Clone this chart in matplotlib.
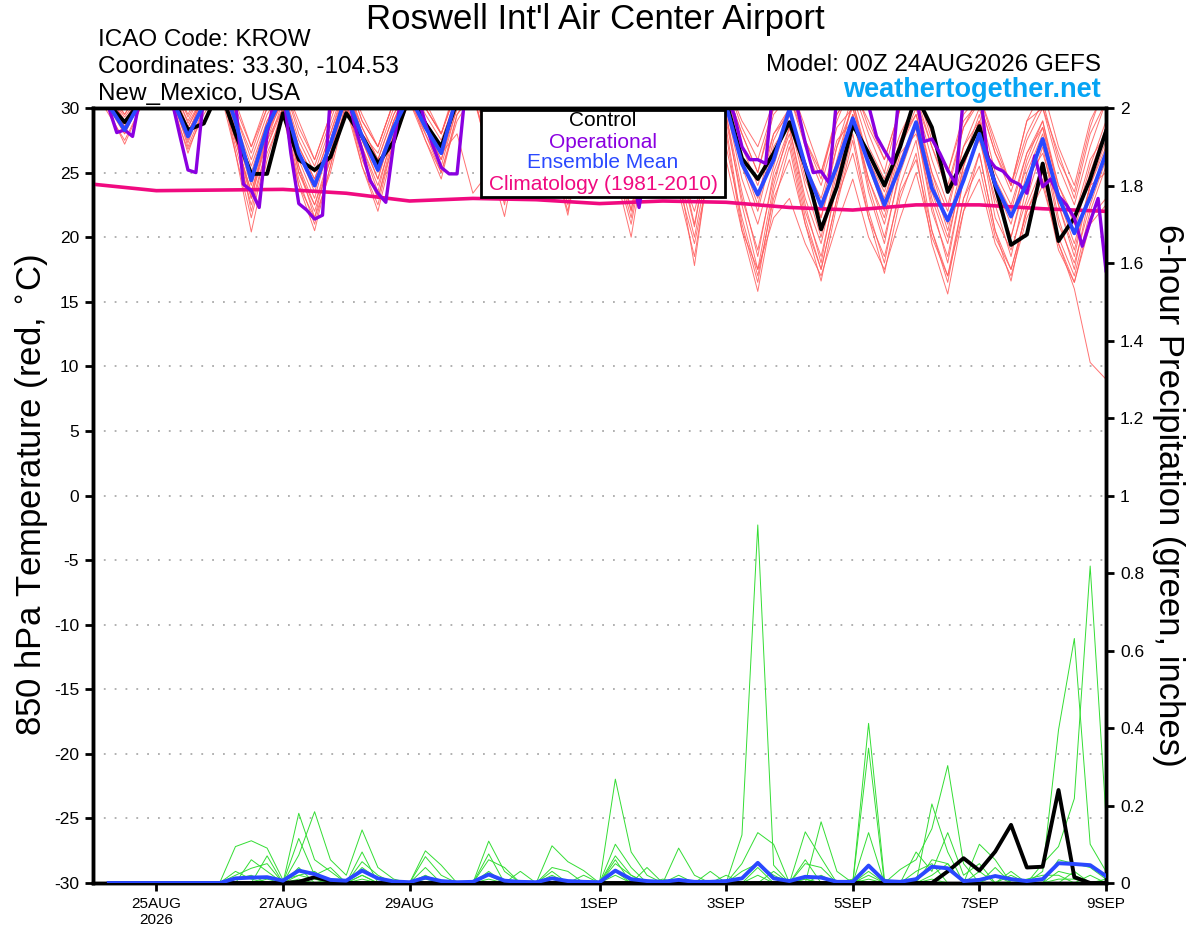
import numpy as np
import matplotlib
matplotlib.use("Agg")
import matplotlib.pyplot as plt
from matplotlib.patches import Rectangle

plt.rcParams['font.family'] = ['Liberation Sans', 'DejaVu Sans']
plt.rcParams['axes.unicode_minus'] = False

# ---- time axes (hours after 00Z 24AUG2026) ----
hours = np.arange(65) * 6            # 6-hourly ensemble output
hours_op = np.arange(129) * 3        # 3-hourly operational run
hours_pcp = np.arange(1, 65) * 6     # 6-hour precip totals end times
clim_hours = np.arange(17) * 24

tick_days = [1, 3, 5, 8, 10, 12, 14, 16]
tick_labels = ['25AUG\n2026', '27AUG', '29AUG', '1SEP', '3SEP', '5SEP', '7SEP', '9SEP']

# ---- 850 hPa temperature (C) ----
control_t = [32, 30.3, 28.9, 30.5, 32.5, 30.8, 28.3, 28.8, 31.5, 28.0, 24.9, 24.9,
             29.6, 26.0, 25.2, 26.2, 29.6, 27.8, 25.7, 27.4, 31.0, 28.8, 27.0, 30.5,
             32.5, 30.0, 28.0, 31.0, 32.5, 30.0, 27.5, 31.0, 32.5, 30.0, 27.0, 30.5,
             32.0, 30.0, 27.5, 28.3, 30.5, 26.1, 24.5, 26.5, 28.9, 25.5, 20.6, 23.9,
             28.7, 26.5, 24.0, 27.0, 31.0, 28.5, 23.5, 26.0, 28.6, 24.0, 19.4, 20.2,
             25.7, 19.7, 21.5, 24.5, 28.2]

mean_t = [31, 30.2, 28.3, 30.5, 32.5, 30.8, 27.8, 30.3, 32.5, 29.0, 24.4, 28.5,
          31.0, 26.5, 24.0, 27.2, 31.0, 27.8, 25.2, 28.5, 31.0, 28.5, 26.5, 31.0,
          32.5, 29.5, 27.0, 30.5, 32.0, 29.0, 26.5, 30.0, 32.0, 28.5, 26.0, 29.5,
          31.5, 28.5, 25.5, 29.5, 30.2, 25.7, 23.3, 26.0, 29.9, 25.5, 22.4, 25.5,
          29.2, 25.7, 22.5, 25.5, 28.9, 23.8, 21.3, 24.4, 28.0, 24.1, 21.6, 24.2,
          27.6, 23.1, 20.3, 23.1, 26.5]

oper_t = [32, 31, 30.0, 28.1, 28.3, 27.8, 31, 32.5,
          33, 32.5, 30.5, 27.8, 25.2, 25.0, 31, 32.5,
          33, 32, 30.5, 24.1, 23.6, 22.3, 28.0, 31,
          31.5, 26.5, 22.6, 22.1, 21.4, 21.7, 31, 32,
          31.5, 28.8, 26.7, 24.4, 23.4, 22.7, 27.3, 31,
          32, 31, 28.8, 27.0, 25.4, 24.9, 24.9, 31,
          32.5, 31.5, 29.5, 27.5, 26.5, 26.0, 28.5, 31.5,
          32.5, 31.5, 29.5, 27.5, 26.5, 26.0, 28.5, 31.5,
          32.5, 31.0, 29.0, 27.0, 25.0, 22.3, 26.0, 31.0,
          32.5, 31.5, 29.5, 27.5, 26.5, 26.5, 29.0, 31.5,
          31, 29.5, 27.0, 26.0, 26.0, 25.7, 32, 32.5,
          31, 30, 27.3, 25.0, 25.1, 24.2, 31, 32.5,
          32, 31.5, 30.2, 27.8, 26.7, 25.7, 32, 31.5,
          31, 27.4, 27.6, 26.5, 25.2, 24.1, 31, 32,
          32, 26.2, 25.4, 25.1, 24.4, 24.1, 23.4, 26.3,
          23.9, 24.5, 23.2, 22.5, 21.5, 19.3, 21.2, 23.0,
          17.4]

clim_t = [24.1, 23.6, 23.65, 23.7, 23.4, 22.8, 23.0, 22.9, 22.6,
          22.8, 22.7, 22.3, 22.1, 22.5, 22.5, 22.2, 22.0]

members_t = [
    [32, 30.2, 28.0, 30.5, 33, 31, 27.0, 30, 33, 28, 22.0, 27, 30.5, 25, 22.5, 26.5,
     31, 27, 24.0, 28, 31.5, 28.5, 26.0, 30.5, 32, 27, 23.0, 29, 32, 28, 24.5, 29.5,
     31.5, 26, 21.5, 28, 31, 25.5, 22.0, 27, 29, 23, 19.0, 24.5, 28, 22, 18.5, 24,
     29.5, 24, 20.0, 25, 28.5, 22, 18.5, 24.5, 28, 21.5, 19.0, 23, 27, 21, 18.0, 22.5, 26],
    [33, 31, 29.5, 31.5, 34, 32, 29.3, 31.5, 33.5, 30, 27.0, 30, 32, 28, 25.5, 29,
     32.5, 29, 27.0, 30.5, 32.5, 30, 28.0, 31.5, 33, 31, 28.5, 32, 33, 30.5, 28.5, 31.5,
     33, 30, 27.5, 31, 32.5, 29.5, 27.0, 31, 32, 29, 27.0, 30.5, 32, 28.5, 25.0, 29.5,
     31.5, 29, 26.0, 30, 31.5, 28, 25.0, 29.5, 31, 27.5, 24.0, 29, 31.5, 27, 24.0, 29, 31.5],
    [32.5, 30.5, 28.5, 31, 33, 31.5, 28.5, 31, 32, 27.5, 23.5, 27.5, 31, 26, 23.0, 27.5,
     31.5, 28, 25.5, 29, 32, 29, 27.0, 30.5, 32.5, 29, 25.5, 30, 32.5, 29.5, 26.0, 30,
     32, 28, 24.5, 29.5, 31.5, 27, 23.0, 28, 30, 24.5, 21.0, 25.5, 29.5, 24.5, 21.5, 26,
     30.5, 26, 23.0, 27, 30, 25, 21.0, 26, 29.5, 24, 21.5, 25.5, 28.5, 23, 19.5, 24, 27.5],
    [31.5, 30, 28.2, 30.5, 32.5, 30.5, 27.5, 30.5, 32.5, 26.5, 20.4, 26, 30, 24, 20.5, 25.5,
     30.5, 26, 23.0, 27.5, 31, 28, 25.5, 30, 31.5, 26, 21.6, 28, 31.5, 26.5, 22.0, 28.5,
     31, 25, 20.0, 27.5, 30.5, 23.5, 18.5, 26, 28.5, 21, 16.5, 23.5, 27.5, 21.5, 17.5, 23,
     28, 22, 18.0, 24, 27.5, 20.5, 16.5, 23, 26.5, 20.5, 17.5, 22, 25, 19.5, 16.0, 10.3, 9.0],
    [32, 31, 29.0, 31, 33, 31.5, 28.0, 31, 33, 29, 25.5, 29, 31.5, 27, 24.5, 28,
     32, 28.5, 26.0, 29.5, 32, 29.5, 27.5, 31, 33, 30, 27.0, 31, 32.5, 29, 25.5, 30,
     32.5, 29, 26.0, 30, 32, 28.5, 25.0, 29.5, 31, 27, 24.0, 28, 30, 25.5, 22.5, 27,
     31, 27, 24.5, 28, 30.5, 26, 22.5, 27, 30, 25, 22.5, 26.5, 29, 24, 21.0, 25.5, 29],
    [32, 30.5, 28.5, 31, 33, 31, 28.0, 31, 32.5, 28, 23.0, 28, 31, 25.5, 21.5, 26.5,
     31, 27, 23.5, 28.5, 31.5, 29, 26.5, 30.5, 32.5, 28.5, 24.5, 30, 32, 28, 23.5, 29.5,
     32, 27.5, 23.0, 29, 31.5, 26.5, 21.0, 27.5, 29.5, 22.5, 17.5, 24, 28.5, 23, 19.5, 25,
     29.5, 24.5, 21.0, 26, 29, 23, 19.5, 25.5, 29, 23.5, 20.0, 25, 28, 22.5, 18.5, 24, 27],
    [33, 31, 29.3, 31, 33.5, 31.5, 29.0, 31.5, 33, 29.5, 26.0, 29.5, 31.5, 27.5, 25.0, 28.5,
     32, 28, 26.5, 30, 32.5, 30, 28.0, 31.5, 32.5, 30, 27.5, 31, 33, 30, 27.0, 31.5,
     32.5, 29.5, 26.5, 30.5, 32.5, 29.5, 26.0, 30.5, 31.5, 28, 25.0, 29.5, 31, 27, 24.0, 28.5,
     30, 26, 23.5, 27.5, 31, 27, 24.0, 28.5, 30.5, 26.5, 23.5, 27.5, 30, 25.5, 22.5, 27, 30.5],
    [31.5, 29.8, 27.2, 30, 32.5, 30.5, 26.5, 30, 32, 27, 22.5, 27, 30, 24.5, 21.0, 25.5,
     30.5, 25.5, 22.0, 27, 31, 27.5, 24.5, 29.5, 31.5, 27.5, 23.5, 29.5, 31, 26.5, 21.7, 28.5,
     31, 26.5, 22.0, 28.5, 30.5, 25, 17.8, 26.5, 28, 20.5, 15.8, 22.5, 27, 21, 16.6, 22.5,
     27.5, 21.5, 17.2, 23, 26.5, 19.5, 15.6, 22, 26.5, 20.5, 16.6, 22.5, 25.5, 20, 17.0, 22, 25.5],
    [32.5, 31, 28.8, 31, 33, 31, 28.2, 30.5, 32.5, 28.5, 24.5, 28.5, 30.5, 26.5, 24.0, 27,
     31.5, 28, 25.0, 29, 31, 28.5, 26.5, 28, 23.4, 25, 24.0, 28, 31, 28, 25.0, 30,
     31.5, 27.5, 24.0, 29, 31, 27, 23.5, 28.5, 30, 25.5, 22.0, 27, 29, 24, 20.0, 25.5,
     30.5, 25.5, 22.0, 27, 29.5, 24.5, 20.5, 25.5, 29, 24, 21.0, 26, 29, 23.5, 20.5, 25, 28.5],
    [31.5, 30.5, 28.6, 30.5, 32.5, 30.5, 27.8, 30.5, 32.5, 28, 24.0, 28, 31, 26.5, 23.5, 27.5,
     31.5, 27.5, 24.5, 29, 32, 29, 26.5, 31, 32, 27.5, 22.5, 29.5, 32, 27.5, 22.5, 29,
     32, 27, 22.1, 29, 31.5, 26, 20.8, 27.5, 29.5, 23.5, 18.5, 25, 28.5, 22.5, 18.0, 24.5,
     29.5, 23.5, 19.5, 25.5, 28.5, 22.5, 18.0, 24.5, 28, 22.5, 18.5, 24, 27.5, 21.5, 17.5, 23.5, 26.5],
    [32, 30.2, 28.3, 30.2, 32.5, 30.5, 27.3, 30.5, 32, 27.5, 23.5, 28, 30.5, 25, 22.0, 26,
     30, 26.5, 23.0, 28, 30.5, 27.5, 25.0, 29, 31, 27, 24.0, 29, 31.5, 27, 24.0, 29.5,
     32, 28, 25.5, 30, 31.5, 27.5, 24.5, 29, 30.5, 26, 22.5, 27.5, 30, 25.5, 23.0, 27.5,
     29, 24.5, 21.5, 26.5, 28, 23.5, 20.0, 25, 27.5, 23, 20.0, 24.5, 26.5, 22.5, 19.0, 24, 25],
    [32.5, 31, 29.0, 31, 33.5, 32, 28.8, 31, 33, 29.5, 26.5, 30, 32, 28.5, 26.0, 29.5,
     32.5, 29, 27.0, 30.5, 33, 30.5, 28.0, 31.5, 33, 30, 26.5, 31, 32.5, 29.5, 27.0, 31,
     32.5, 29, 25.0, 30.5, 32.5, 29, 26.5, 30.5, 32, 28.5, 26.0, 30, 31, 27.5, 25.0, 29,
     32, 28.5, 26.0, 30, 31.5, 27.5, 25.0, 29, 30.5, 26.5, 24.0, 28, 30.5, 26, 23.5, 28.5, 32],
    [31.5, 29.5, 27.5, 30, 32, 30, 26.8, 29.5, 31.5, 26.5, 21.5, 26.5, 29.5, 24, 21.5, 25,
     30, 25.5, 22.5, 27.5, 30.5, 28, 25.0, 29.5, 31, 26.5, 22.8, 28.5, 31, 26.5, 23.0, 28.5,
     30.5, 25.5, 21.0, 27.5, 30, 25, 20.0, 26.5, 27, 21.5, 17.0, 23, 26, 21, 17.5, 23,
     26.5, 21.5, 18.5, 23.5, 26, 20.5, 17.0, 23, 25.5, 20, 17.5, 22, 24.5, 19, 16.5, 21.5, 23],
    [32.5, 30.8, 28.5, 30.8, 33, 31, 28.5, 31, 32.5, 28.5, 25.0, 29, 31, 27, 24.5, 28,
     31.5, 28.5, 26.0, 29.5, 31.5, 29, 27.0, 30.5, 32, 29, 25.5, 30.5, 32, 28.5, 25.0, 30,
     31.5, 28, 24.0, 29.5, 31, 27.5, 24.0, 29, 30.5, 26, 23.0, 28, 29.5, 25, 21.5, 27,
     30, 25.5, 22.5, 27.5, 29.5, 25, 22.0, 27, 29, 24.5, 22.0, 26.5, 28.5, 24, 21.5, 26, 28],
    [31.5, 30, 28.0, 30.5, 32.5, 31, 28.0, 30.5, 32, 27.5, 23.0, 27.5, 30, 25.5, 22.5, 26,
     31, 27.5, 24.5, 28.5, 31.5, 28.5, 26.0, 30, 32, 28, 24.5, 29.5, 31.5, 27.5, 24.0, 29,
     31, 26.5, 23.0, 28, 29.5, 24, 19.5, 25.5, 26, 20.5, 17.5, 21.5, 23, 19.5, 17.0, 21,
     24.5, 20, 17.5, 21.5, 25, 20, 17.0, 22, 24.5, 19.5, 17.0, 21.5, 24, 19.5, 16.5, 21, 22.5],
    [33, 31.5, 29.5, 31.5, 33.5, 32, 29.5, 32, 33.5, 30.5, 27.0, 30.5, 32, 29, 26.0, 29.5,
     32.5, 29.5, 27.0, 30.5, 32.5, 30, 28.0, 32, 33, 30.5, 27.5, 31.5, 33, 30, 27.0, 31.5,
     33, 30, 26.0, 31, 32.5, 29.5, 26.5, 31, 31.5, 28, 25.0, 30, 31.5, 27.5, 24.5, 29.5,
     31.5, 28, 25.0, 30, 30.5, 27, 23.5, 28.5, 31, 27, 24.0, 29, 30, 26.5, 23.0, 28, 30.5],
]

# ---- 6-hour precipitation (inches), periods ending 06Z 24AUG .. 00Z 9SEP ----
control_p = [0, 0, 0, 0, 0, 0, 0, 0, 0, 0, 0, 0, 0.003, 0.015, 0.005, 0,
             0, 0, 0, 0, 0, 0, 0, 0, 0, 0, 0, 0, 0, 0, 0, 0,
             0, 0, 0, 0, 0, 0, 0, 0, 0, 0, 0, 0, 0, 0, 0, 0,
             0, 0, 0, 0, 0, 0.03, 0.064, 0.032, 0.081, 0.15, 0.04, 0.042, 0.24, 0.015, 0, 0]

mean_p = [0, 0, 0, 0, 0, 0, 0, 0, 0.012, 0.014, 0.015, 0.006, 0.032, 0.023, 0.008, 0.006,
          0.032, 0.012, 0.004, 0.002, 0.014, 0.005, 0.002, 0.003, 0.022, 0.006, 0.003, 0.002, 0.012, 0.005, 0.003, 0.002,
          0.032, 0.01, 0.005, 0.003, 0.008, 0.003, 0.003, 0.005, 0.012, 0.052, 0.012, 0.005, 0.016, 0.014, 0.003, 0.003,
          0.045, 0.005, 0.003, 0.01, 0.042, 0.038, 0.005, 0.008, 0.018, 0.01, 0.005, 0.01, 0.051, 0.049, 0.046, 0.018]

members_p = [
    [0, 0, 0, 0, 0, 0, 0, 0, 0.094, 0.109, 0.09, 0.008, 0.02, 0.03, 0, 0,
     0.02, 0, 0, 0, 0.04, 0, 0, 0, 0.03, 0, 0, 0, 0.02, 0, 0, 0,
     0.268, 0.08, 0.02, 0, 0.09, 0.02, 0, 0, 0.03, 0.05, 0.02, 0, 0.05, 0.04, 0, 0,
     0.03, 0, 0, 0, 0.06, 0.05, 0, 0.03, 0, 0, 0, 0, 0.06, 0.05, 0.04, 0.01],
    [0, 0, 0, 0, 0, 0, 0, 0, 0.02, 0.038, 0.05, 0, 0.18, 0.06, 0.03, 0,
     0.055, 0.02, 0, 0, 0.083, 0.046, 0, 0, 0.06, 0.04, 0, 0, 0.04, 0.03, 0, 0,
     0.1, 0.04, 0, 0, 0, 0, 0, 0, 0.124, 0.924, 0.046, 0, 0.01, 0, 0, 0,
     0.13, 0, 0, 0.03, 0.05, 0, 0, 0, 0.04, 0, 0, 0.03, 0.395, 0.631, 0.1, 0.03],
    [0, 0, 0, 0, 0, 0, 0, 0, 0, 0.06, 0.03, 0, 0.072, 0.184, 0.06, 0.02,
     0.137, 0.04, 0.01, 0, 0.02, 0, 0, 0, 0.108, 0.03, 0, 0, 0.096, 0.055, 0.032, 0,
     0.07, 0.02, 0, 0, 0, 0, 0, 0, 0.05, 0.13, 0.1, 0, 0.132, 0.065, 0, 0,
     0.412, 0.01, 0, 0, 0.204, 0.08, 0, 0.1, 0.06, 0, 0, 0.05, 0.094, 0.218, 0.818, 0.17],
    [0, 0, 0, 0, 0, 0, 0, 0, 0, 0, 0.07, 0, 0.115, 0.02, 0.04, 0,
     0.08, 0, 0, 0, 0.068, 0.02, 0, 0, 0.075, 0, 0.03, 0, 0.03, 0, 0.02, 0,
     0.06, 0, 0.04, 0, 0, 0, 0.03, 0, 0, 0.04, 0, 0, 0, 0.158, 0.03, 0,
     0.348, 0, 0.035, 0.06, 0.14, 0.303, 0.05, 0, 0, 0.03, 0, 0, 0.03, 0.02, 0, 0],
    [0, 0, 0, 0, 0, 0, 0, 0, 0.01, 0.02, 0, 0, 0.04, 0, 0.01, 0,
     0.04, 0.01, 0, 0, 0, 0, 0, 0, 0.02, 0, 0, 0, 0, 0, 0, 0,
     0.05, 0.02, 0, 0.01, 0, 0, 0, 0.02, 0, 0.02, 0, 0, 0.06, 0, 0, 0,
     0.02, 0, 0, 0.08, 0.03, 0.13, 0.02, 0.05, 0, 0.02, 0, 0, 0, 0.03, 0, 0.01],
    [0, 0, 0, 0, 0, 0, 0, 0, 0.03, 0.01, 0, 0, 0.02, 0.01, 0, 0,
     0.02, 0, 0, 0, 0.01, 0, 0, 0, 0, 0, 0, 0, 0.01, 0, 0, 0,
     0.03, 0, 0, 0, 0.02, 0, 0, 0, 0, 0, 0.03, 0, 0, 0.02, 0, 0.01,
     0, 0, 0, 0, 0.02, 0.05, 0, 0, 0.02, 0, 0.01, 0.02, 0.02, 0, 0.02, 0],
    [0, 0, 0, 0, 0, 0, 0, 0, 0, 0, 0.01, 0, 0.01, 0, 0, 0,
     0.01, 0, 0, 0, 0, 0, 0, 0, 0.01, 0, 0, 0, 0, 0, 0, 0,
     0.02, 0, 0, 0, 0, 0, 0, 0, 0, 0, 0, 0, 0.01, 0, 0, 0,
     0.01, 0, 0, 0, 0.01, 0, 0, 0, 0, 0, 0, 0, 0.01, 0.01, 0, 0],
]

RED = '#ff5a5a'
GREEN = '#33dd33'
PURPLE = '#8a00e0'
BLUE = '#2a48ff'
PINK = '#f00a80'

fig = plt.figure(figsize=(12, 9.27), dpi=100)
ax = fig.add_axes([93 / 1200, 1 - 883 / 927, 1013 / 1200, 775 / 927])
ax2 = ax.twinx()

for v in range(-25, 30, 5):
    ax.axhline(v, color='#aaaaaa', lw=1.3, ls=(0, (1, 5)), zorder=0)

for m in members_t:
    ax.plot(hours, m, color=RED, lw=0.7, alpha=0.85, zorder=1)
ax.plot(clim_hours, clim_t, color=PINK, lw=2.6, zorder=3)
ax.plot(hours, control_t, color='black', lw=2.8, zorder=4)
ax.plot(hours_op, oper_t, color=PURPLE, lw=2.4, zorder=5)
ax.plot(hours, mean_t, color=BLUE, lw=2.8, zorder=6)

for m in members_p:
    ax2.plot(hours_pcp, m, color=GREEN, lw=0.7, zorder=1)
ax2.plot(hours_pcp, control_p, color='black', lw=2.8, zorder=4)
ax2.plot(hours_pcp, mean_p, color=BLUE, lw=2.8, zorder=6)

ax.set_xlim(0, 384)
ax.set_ylim(-30, 30)
ax2.set_ylim(0, 2)
ax.set_yticks(range(-30, 31, 5))
ax2.set_yticks(np.arange(0, 2.01, 0.2))
ax2.set_yticklabels(['0', '0.2', '0.4', '0.6', '0.8', '1', '1.2', '1.4', '1.6', '1.8', '2'])
ax.set_xticks([d * 24 for d in tick_days])
ax.set_xticklabels(tick_labels)

for a in (ax, ax2):
    for s in a.spines.values():
        s.set_linewidth(2.5)
    a.tick_params(direction='out', width=2, length=6, labelsize=12.5, pad=4)
ax.tick_params(axis='x', labelsize=11)

fig.text(595 / 1200, 1 - 19 / 927, "Roswell Int'l Air Center Airport", ha='center', va='center', fontsize=25)
fig.text(98 / 1200, 1 - 40 / 927, 'ICAO Code: KROW', ha='left', va='center', fontsize=17.5)
fig.text(98 / 1200, 1 - 67 / 927, 'Coordinates: 33.30, -104.53', ha='left', va='center', fontsize=17.5)
fig.text(98 / 1200, 1 - 94 / 927, 'New_Mexico, USA', ha='left', va='center', fontsize=17.5)
fig.text(1101 / 1200, 1 - 65 / 927, 'Model: 00Z 24AUG2026 GEFS', ha='right', va='center', fontsize=17.5)
fig.text(1101 / 1200, 1 - 90 / 927, 'weathertogether.net', ha='right', va='center', fontsize=19.5,
         fontweight='bold', color='#06a4f4')
fig.text(32 / 1200, 1 - 495 / 927, '850 hPa Temperature (red, $^{\\circ}$C)', rotation=90,
         ha='center', va='center', fontsize=25)
fig.text(1168 / 1200, 1 - 495 / 927, '6-hour Precipitation (green, inches)', rotation=-90,
         ha='center', va='center', fontsize=25)

# text-only legend box
fig.patches.append(Rectangle((481 / 1200, 1 - 197 / 927), 244 / 1200, 87 / 927,
                             transform=fig.transFigure, facecolor='white', edgecolor='black',
                             lw=2, zorder=10))
for txt, col, y in [('Control', 'black', 121), ('Operational', PURPLE, 142),
                    ('Ensemble Mean', BLUE, 163), ('Climatology (1981-2010)', PINK, 185)]:
    fig.text(603 / 1200, 1 - y / 927, txt, color=col, ha='center', va='center', fontsize=15, zorder=11)

fig.savefig('out.png', dpi=100)
